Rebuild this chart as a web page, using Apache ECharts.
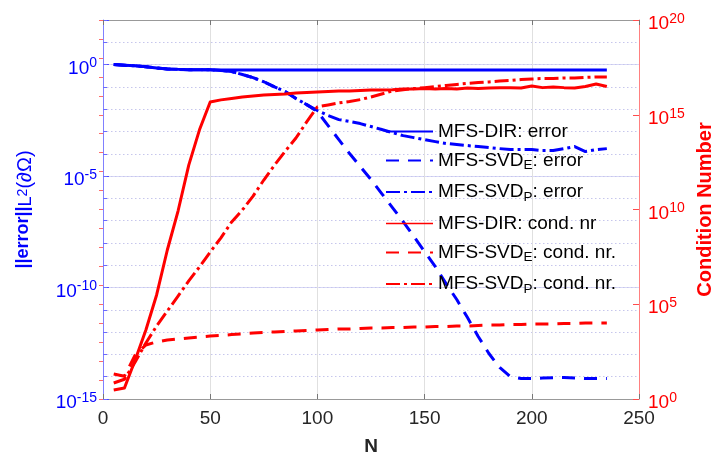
<!DOCTYPE html>
<html>
<head>
<meta charset="utf-8">
<script src="https://cdn.jsdelivr.net/npm/echarts@6/dist/echarts.min.js"></script>
<style>
  html, body { margin: 0; padding: 0; background: #fff; }
  #chart { width: 714px; height: 459px; }
</style>
</head>
<body>
<div id="chart"></div>
<script>
// Number of collocation points
const N = [5, 10, 15, 20, 25, 30, 35, 40, 45, 50, 55, 60, 65, 70, 75, 80, 85, 90, 95, 100,
  105, 110, 115, 120, 125, 130, 135, 140, 145, 150, 155, 160, 165, 170, 175, 180, 185, 190,
  195, 200, 205, 210, 215, 220, 225, 230, 235];

// Boundary L2 error (left axis)
const errDir = [1.0, 0.93, 0.88, 0.80, 0.70, 0.64, 0.61, 0.59, 0.58, 0.58,
  0.57, 0.57, 0.57, 0.57, 0.57, 0.57, 0.57, 0.57, 0.57, 0.57, 0.57, 0.57, 0.57, 0.57, 0.57,
  0.57, 0.57, 0.57, 0.57, 0.57, 0.57, 0.57, 0.57, 0.57, 0.57, 0.57, 0.57, 0.57, 0.57, 0.57,
  0.57, 0.57, 0.57, 0.57, 0.57, 0.57, 0.57];
const errSvdE = [1.0, 0.93, 0.88, 0.80, 0.70, 0.64, 0.61, 0.59, 0.58, 0.58,
  0.54, 0.49, 0.36, 0.26, 0.17, 0.10, 0.062, 0.030, 0.016, 7.8e-3,
  1.84e-3, 4.3e-4, 1.02e-4, 2.67e-5, 6.97e-6, 1.64e-6, 3.87e-7, 9.1e-8, 1.94e-8, 4.1e-9,
  8.7e-10, 1.5e-10, 2.9e-11, 4.5e-12, 6.4e-13, 1.1e-13, 2.6e-14, 1.0e-14, 8.3e-15, 8.3e-15,
  8.7e-15, 9.1e-15, 9.1e-15, 8.7e-15, 8.3e-15, 8.3e-15, 8.3e-15];
const errSvdP = [1.0, 0.93, 0.88, 0.80, 0.70, 0.64, 0.61, 0.59, 0.58, 0.58,
  0.54, 0.49, 0.36, 0.26, 0.17, 0.10, 0.062, 0.030, 0.016, 8.7e-3,
  5.2e-3, 3.4e-3, 2.8e-3, 2.26e-3, 1.66e-3, 1.22e-3, 8.9e-4, 6.5e-4, 5.3e-4, 4.3e-4,
  3.5e-4, 2.9e-4, 2.6e-4, 2.33e-4, 2.1e-4, 1.9e-4, 1.7e-4, 1.54e-4, 1.54e-4, 1.54e-4,
  1.39e-4, 1.39e-4, 1.7e-4, 2.1e-4, 1.26e-4, 1.54e-4, 1.7e-4];

// Condition numbers (right axis)
const condDir = [3.0, 3.8, 114, 4.4e3, 3.1e5, 7.3e7, 8.3e9, 2.2e12, 1.6e14, 4.7e15,
  6.1e15, 7.2e15, 8.7e15, 9.8e15, 1.1e16, 1.17e16, 1.24e16, 1.4e16, 1.5e16, 1.58e16,
  1.7e16, 1.8e16, 1.8e16, 1.9e16, 2.0e16, 2.0e16, 2.1e16, 2.3e16, 2.3e16, 2.4e16,
  2.3e16, 2.4e16, 2.3e16, 2.6e16, 2.4e16, 2.6e16, 2.7e16, 2.7e16, 2.6e16, 3.3e16,
  2.7e16, 2.9e16, 2.7e16, 2.6e16, 3.1e16, 4.2e16, 3.1e16];
const condSvdE = [21, 16, 210, 710, 1020, 1300, 1470, 1660, 1870, 2100,
  2240, 2520, 2690, 3040, 3240, 3440, 3660, 3880, 4120, 4380,
  4650, 4950, 4950, 5250, 5580, 5580, 5930, 5930, 6300, 6300,
  6700, 6700, 7100, 7100, 7560, 8000, 8000, 8540, 8540, 9070,
  9070, 9070, 9630, 9630, 10200, 10200, 10200];
const condSvdP = [7, 11, 90, 900, 7100, 4.4e4, 2.7e5, 1.7e6, 9.3e6, 5.7e7,
  3.2e8, 2.2e9, 9.4e9, 5.1e10, 3.6e11, 2.2e12, 1.2e13, 5.9e13, 4.2e14, 2.6e15,
  3.3e15, 4.2e15, 5.0e15, 6.3e15, 8.7e15, 1.24e16, 1.8e16, 2.1e16, 2.4e16, 2.7e16,
  3.1e16, 3.5e16, 4.0e16, 4.5e16, 5.0e16, 5.4e16, 6.0e16, 6.4e16, 7.2e16, 7.7e16,
  8.2e16, 8.2e16, 8.7e16, 8.7e16, 9.3e16, 9.8e16, 9.8e16];

// Axis ranges and ticks
const xTicks = { min: 0, max: 250, step: 50 };
const errRange = { min: 1e-15, max: 1e2 };
const condRange = { min: 1, max: 1e20 };

const FONT = '"Liberation Sans", Arial, Helvetica, sans-serif';
const BLUE = '#0000ff';
const RED = '#ff0000';
const DASH = [13, 9];
const DASHDOT = [14, 4, 3, 4];

// "10^k" tick labels, only on every fifth decade
function powLabels(color, margin) {
  return {
    margin: margin,
    padding: [8, 0, 0, 0],
    formatter: function (v) {
      const e = Math.round(Math.log10(v));
      return e % 5 === 0 ? '{b|10}{e|' + e + '}' : '';
    },
    rich: {
      b: { fontSize: 19, lineHeight: 24, color: color, fontFamily: FONT },
      e: { fontSize: 14, lineHeight: 8, verticalAlign: 'top', color: color, fontFamily: FONT }
    }
  };
}

// Legend names use "_X" for a subscript letter
function legendText(name) {
  const m = name.match(/^(.*?)_(\w)(.*)$/);
  if (!m) return '{n|' + name + '}';
  return '{n|' + m[1] + '}{s|' + m[2] + '}{n|' + m[3] + '}';
}

function line(name, values, yAxisIndex, color, type, width) {
  return {
    name: name,
    type: 'line',
    xAxisIndex: 0,
    yAxisIndex: yAxisIndex,
    data: N.map(function (n, i) { return [n, values[i]]; }),
    symbol: 'none',
    showSymbol: false,
    lineStyle: { color: color, width: width, type: type, cap: 'butt', join: 'round' },
    itemStyle: { color: color },
    emphasis: { disabled: true }
  };
}

const names = [
  'MFS-DIR: error',
  'MFS-SVD_E: error',
  'MFS-SVD_P: error',
  'MFS-DIR: cond. nr',
  'MFS-SVD_E: cond. nr.',
  'MFS-SVD_P: cond. nr.'
];

const chart = echarts.init(document.getElementById('chart'), null, { renderer: 'canvas' });

chart.setOption({
  animation: false,
  backgroundColor: '#ffffff',
  grid: { left: 103, right: 75, top: 20, bottom: 60, containLabel: false, outerBoundsMode: 'none' },
  legend: {
    orient: 'vertical',
    left: 385,
    top: 122,
    padding: 0,
    itemWidth: 47,
    itemHeight: 14,
    itemGap: 10,
    selectedMode: false,
    formatter: legendText,
    itemStyle: { opacity: 0 },
    textStyle: {
      rich: {
        n: { fontSize: 19, lineHeight: 24, color: '#000', fontFamily: FONT },
        s: { fontSize: 13.5, lineHeight: 4, verticalAlign: 'bottom', color: '#000', fontFamily: FONT }
      }
    },
    data: [
      { name: names[0] },
      { name: names[1] },
      { name: names[2] },
      { name: names[3], lineStyle: { width: 1.5 } },
      { name: names[4] },
      { name: names[5] }
    ]
  },
  xAxis: [
    {
      type: 'value', position: 'bottom',
      min: xTicks.min, max: xTicks.max, interval: xTicks.step,
      axisLine: { show: true, onZero: false, lineStyle: { color: '#999999', width: 1 } },
      axisTick: { show: true, inside: true, length: 5, lineStyle: { color: '#777777' } },
      axisLabel: { color: '#262626', fontSize: 19, fontFamily: FONT, margin: 10 },
      splitLine: { show: true, lineStyle: { color: '#e0e0e0', width: 1 } },
      name: 'N', nameLocation: 'middle', nameGap: 38,
      nameTextStyle: { color: '#262626', fontSize: 19, fontWeight: 'bold', fontFamily: FONT }
    },
    {
      type: 'value', position: 'top',
      min: xTicks.min, max: xTicks.max, interval: xTicks.step,
      axisLine: { show: true, onZero: false, lineStyle: { color: '#999999', width: 1 } },
      axisTick: { show: true, inside: true, length: 5, lineStyle: { color: '#777777' } },
      axisLabel: { show: false },
      splitLine: { show: false }
    }
  ],
  yAxis: [
    {
      type: 'log', logBase: 10, position: 'left',
      min: errRange.min, max: errRange.max, interval: 5,
      axisLine: { show: true, onZero: false, lineStyle: { color: '#8080ff', width: 1 } },
      axisTick: { show: true, inside: true, length: 6, lineStyle: { color: '#4d4dff' } },
      axisLabel: powLabels(BLUE, 6),
      splitLine: { show: true, lineStyle: { color: '#d8d8f6', width: 1 } },
      name: '{b|||error||}{s|L}{p|2}{g|(∂Ω)}',
      nameLocation: 'middle', nameRotate: 90, nameGap: 68,
      nameTextStyle: {
        rich: {
          b: { fontSize: 18, lineHeight: 24, fontWeight: 'bold', color: BLUE, fontFamily: FONT },
          s: { fontSize: 18, lineHeight: 7, verticalAlign: 'bottom', color: BLUE, fontFamily: FONT },
          p: { fontSize: 14, lineHeight: 24, verticalAlign: 'middle', color: BLUE, fontFamily: FONT },
          g: { fontSize: 20, lineHeight: 7, verticalAlign: 'bottom', color: BLUE, fontFamily: FONT }
        }
      }
    },
    {
      type: 'log', logBase: 10, position: 'left',
      min: errRange.min, max: errRange.max, interval: 1,
      axisLine: { show: false },
      axisTick: { show: true, inside: true, length: 4, lineStyle: { color: '#6b6bff' } },
      axisLabel: { show: false },
      splitLine: { show: true, lineStyle: { color: '#c6c6ec', width: 1, type: [1.5, 2.5] } }
    },
    {
      type: 'log', logBase: 10, position: 'right',
      min: condRange.min, max: condRange.max, interval: 5,
      axisLine: { show: true, onZero: false, lineStyle: { color: '#ff8080', width: 1 } },
      axisTick: { show: true, inside: true, length: 6, lineStyle: { color: '#ff4d4d' } },
      axisLabel: powLabels(RED, 9),
      splitLine: { show: false },
      name: 'Condition Number',
      nameLocation: 'middle', nameRotate: 90, nameGap: 56,
      nameTextStyle: { color: RED, fontSize: 20, fontWeight: 'bold', fontFamily: FONT }
    },
    {
      type: 'log', logBase: 10, position: 'right',
      min: condRange.min, max: condRange.max, interval: 1,
      axisLine: { show: false },
      axisTick: { show: true, inside: true, length: 4, lineStyle: { color: '#ff6b6b' } },
      axisLabel: { show: false },
      splitLine: { show: false }
    }
  ],
  series: [
    line(names[0], errDir, 0, BLUE, 'solid', 3),
    line(names[1], errSvdE, 0, BLUE, DASH, 3),
    line(names[2], errSvdP, 0, BLUE, DASHDOT, 3),
    line(names[3], condDir, 2, RED, 'solid', 3),
    line(names[4], condSvdE, 2, RED, DASH, 3),
    line(names[5], condSvdP, 2, RED, DASHDOT, 3)
  ]
});
</script>
</body>
</html>
